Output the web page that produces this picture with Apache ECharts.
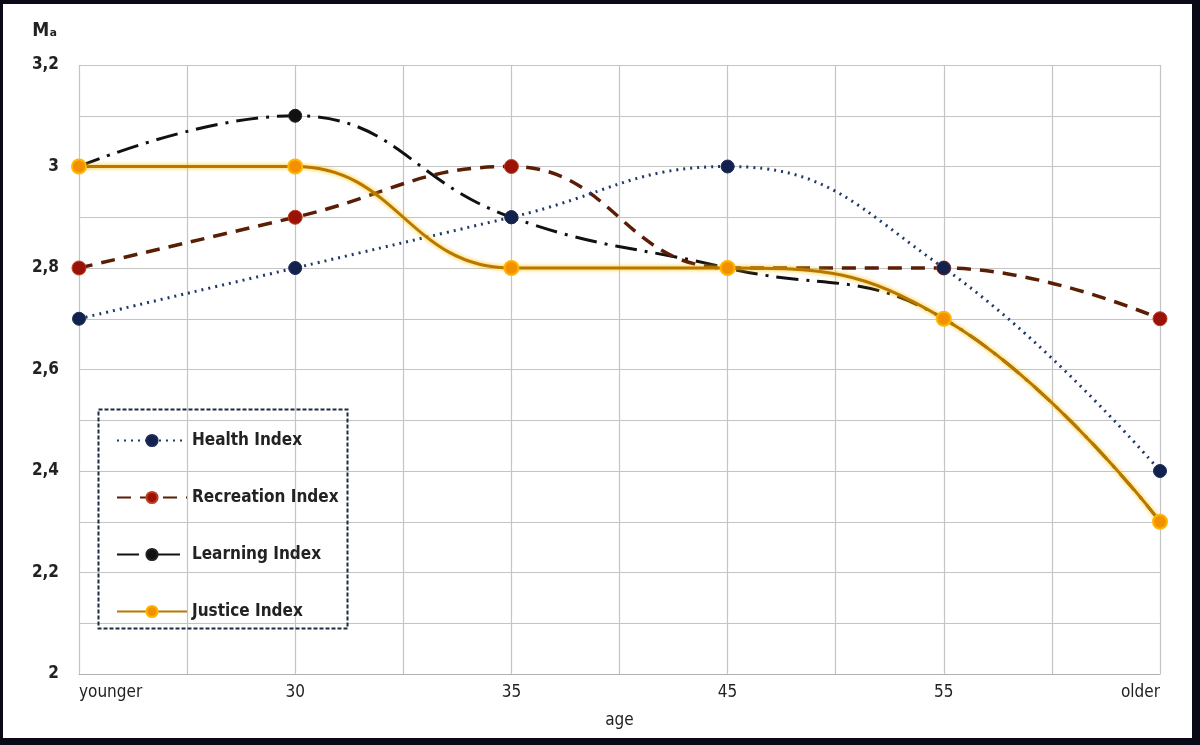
<!DOCTYPE html>
<html><head><meta charset="utf-8">
<script src="https://cdn.jsdelivr.net/npm/echarts@6/dist/echarts.min.js"></script>
<style>
html,body{margin:0;padding:0;background:#fff;}
#chart{position:absolute;left:0;top:0;width:1200px;height:745px;background:#fff;}
#frame{position:absolute;left:0;top:0;width:1200px;height:745px;box-sizing:border-box;border-style:solid;border-color:#0a0a16;border-width:4px 8px 7px 3px;pointer-events:none;}
</style></head>
<body><div id="chart"></div><div id="frame"></div>
<script>
const categories = ['younger', '30', '35', '45', '55', 'older'];
const healthIndex = [2.7, 2.8, 2.9, 3.0, 2.8, 2.4];
const recreationIndex = [2.8, 2.9, 3.0, 2.8, 2.8, 2.7];
const learningIndex = [3.0, 3.1, 2.9, 2.8, 2.7, 2.3];
const justiceIndex = [3.0, 3.0, 2.8, 2.8, 2.7, 2.3];
const seriesNames = ['Health Index', 'Recreation Index', 'Learning Index', 'Justice Index'];
const yMin = 2, yMax = 3.2, yStep = 0.1;

const minorCats = [];
for (let i = 0; i < categories.length * 2 - 1; i++) minorCats.push('');

const chart = echarts.init(document.getElementById('chart'));
const labelFont = '"DejaVu Sans Condensed", "DejaVu Sans", sans-serif';
chart.setOption({
  animation: false,
  backgroundColor: '#fff',
  grid: { left: 79, right: 40, top: 65, bottom: 71 },
  xAxis: [{
    type: 'category', data: categories, boundaryGap: false,
    name: 'age', nameLocation: 'middle', nameGap: 38,
    nameTextStyle: { fontFamily: labelFont, fontSize: 17, color: '#222' },
    axisLine: { lineStyle: { color: '#b0b0b0', width: 1 } },
    axisTick: { show: false },
    axisLabel: { fontFamily: labelFont, fontSize: 17, color: '#222', margin: 10,
      alignMinLabel: 'left', alignMaxLabel: 'right' },
    splitLine: { show: false }
  }, {
    type: 'category', data: minorCats, boundaryGap: false, position: 'bottom',
    axisLine: { show: false }, axisTick: { show: false }, axisLabel: { show: false },
    splitLine: { show: true, lineStyle: { color: '#c4c4c4', width: 1.2 } }
  }],
  yAxis: {
    type: 'value', min: yMin, max: yMax, interval: yStep,
    name: 'Mₐ', nameLocation: 'end', nameGap: 24,
    nameTextStyle: { fontFamily: labelFont, fontSize: 19, fontWeight: 'bold', color: '#222', align: 'right', padding: [0, 22, 0, 0] },
    axisLine: { show: false }, axisTick: { show: false },
    axisLabel: { fontFamily: labelFont, fontSize: 17, fontWeight: 'bold', color: '#222', margin: 20,
      formatter: v => {
        const k = Math.round(v * 10);
        if (k % 2 !== 0) return '';
        return String(+(k / 10).toFixed(1)).replace('.', ',');
      } },
    splitLine: { show: true, lineStyle: { color: '#c4c4c4', width: 1.2 } }
  },
  legend: {
    orient: 'vertical', left: 111, top: 427,
    itemWidth: 70, itemHeight: 14, itemGap: 40,
    data: seriesNames,
    textStyle: { fontFamily: labelFont, fontSize: 17, color: '#222', fontWeight: 'bold' }
  },
  graphic: [{
    type: 'rect', silent: true, z: 10,
    shape: { x: 98.5, y: 409.5, width: 249, height: 219 },
    style: { fill: 'rgba(255,255,255,0.0)', stroke: '#1c2a44', lineWidth: 2, lineDash: [4, 2] }
  }],
  series: [{
    name: seriesNames[0], type: 'line', data: healthIndex, smooth: 0.45, z: 4,
    symbol: 'circle', symbolSize: 13,
    lineStyle: { color: '#1f3a68', width: 3, type: [2, 5] },
    itemStyle: { color: '#13214d', borderColor: '#1a2c5e', borderWidth: 1 }
  }, {
    name: seriesNames[1], type: 'line', data: recreationIndex, smooth: 0.45, z: 3,
    symbol: 'circle', symbolSize: 14,
    lineStyle: { color: '#5a1e04', width: 3.5, type: [14, 9] },
    itemStyle: { color: '#9a1208', borderColor: '#c0401c', borderWidth: 1 }
  }, {
    name: seriesNames[2], type: 'line', data: learningIndex, smooth: 0.45, z: 2,
    symbol: 'circle', symbolSize: 13,
    lineStyle: { color: '#111', width: 3, type: [22, 8, 3, 8] },
    itemStyle: { color: '#111', borderColor: '#222', borderWidth: 1 }
  }, {
    name: seriesNames[3], type: 'line', data: justiceIndex, smooth: 0.45, z: 5,
    symbol: 'circle', symbolSize: 14,
    lineStyle: { color: '#b87800', width: 3, shadowColor: '#ffc000', shadowBlur: 4 },
    itemStyle: { color: '#f39000', borderColor: '#ffb600', borderWidth: 2 }
  }]
});
</script>
</body></html>
